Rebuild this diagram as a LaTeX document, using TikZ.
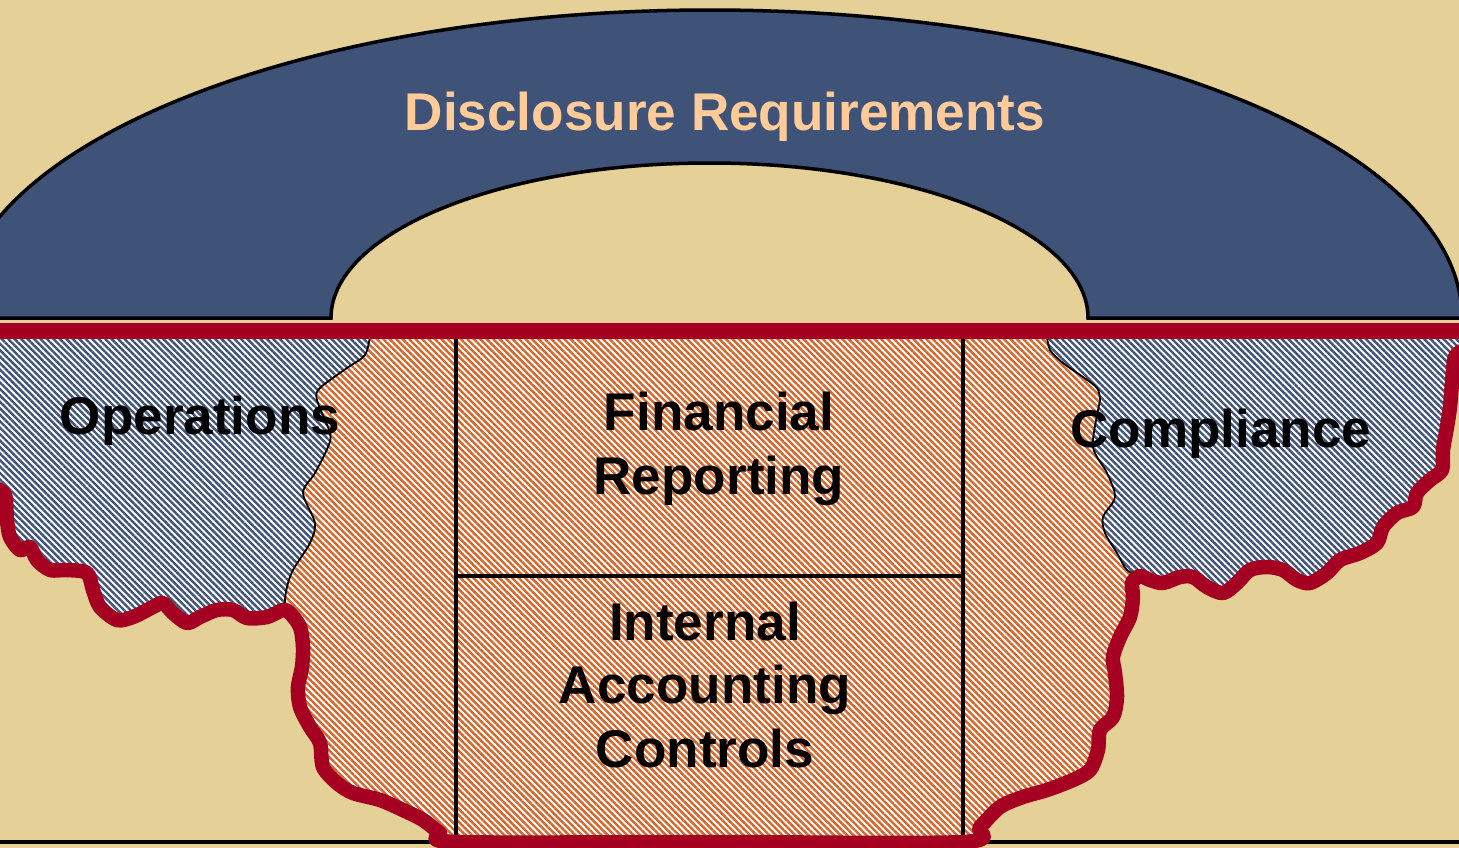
\documentclass[tikz,border=0pt]{standalone}
\usepackage{fontspec}
\setsansfont{Liberation Sans}
\usetikzlibrary{patterns.meta}

\definecolor{sand}{RGB}{229,208,152}
\definecolor{navy}{RGB}{63,82,120}
\definecolor{peach}{RGB}{255,204,153}
\definecolor{crimson}{RGB}{165,0,33}
\definecolor{rust}{RGB}{215,100,40}

\tikzset{
  hatch/.style={preaction={fill=white}, pattern={Lines[angle=-45,distance=1.3pt,line width=0.68pt]}},
  seam/.style={draw=black, line width=0.018cm},
  rim/.style={draw=crimson, line width=0.145cm, line join=round, line cap=round},
  boxline/.style={draw=black, line width=0.045cm},
  areatext/.style={font=\sffamily\bfseries\fontsize{15.1}{18.1}\selectfont, align=center, inner sep=0pt},
}

\begin{document}
\begin{tikzpicture}[x=0.01cm, y=-0.01cm]
% canvas, in pixel units from the top left corner
\fill[sand] (0,0) rectangle (1459,848);
\useasboundingbox (0,0) rectangle (1459,848);
\clip (0,0) rectangle (1459,848);
\draw[line width=0.04cm] (0,842) -- (1459,842);

% arch
\draw[fill=navy, line width=0.035cm] (-42,318)
  arc[start angle=180, end angle=360, x radius=752, y radius=308] -- (1088,318)
  arc[start angle=360, end angle=180, x radius=378.5, y radius=155] -- cycle;
\node[areatext, text=peach, anchor=base] (disclosure) at (725,130) {Disclosure Requirements};

% hatched ground below the band
\path[hatch, pattern color=rust] (-5,336) -- (-5,488) -- plot[smooth] coordinates {(-5,488) (5,495) (7,520) (10,537) (20,550) (30,547) (37,560) (50,570) (67,570) (87,573) (93,590) (100,607) (117,620) (133,617) (153,607) (163,603) (173,613) (187,623) (200,617) (217,610) (233,610) (247,618) (267,617) (283,610) (290,613) (300,627) (303,647) (302,667) (298,687) (300,707) (310,727) (320,743) (323,767) (337,783) (353,793) (380,800) (403,810) (423,820) (440,833) (456,842) (710,842) (963,842) (980,827) (1000,807) (1023,797) (1047,790) (1073,780) (1090,770) (1098,750) (1100,730) (1113,717) (1117,697) (1115,673) (1113,657) (1120,637) (1130,617) (1133,597) (1132,583) (1140,576) (1150,580) (1163,583) (1180,577) (1193,577) (1207,587) (1223,593) (1237,583) (1250,570) (1267,567) (1283,570) (1297,580) (1310,583) (1327,573) (1340,560) (1360,553) (1377,543) (1383,527) (1397,513) (1413,507) (1417,493) (1430,480) (1442,470) (1443,450) (1447,427) (1450,407) (1452,383) (1455,357) (1464,350)} -- (1464,336) -- cycle;

% operations
\path[hatch, pattern color=navy, seam] (-5,336) -- (370,336)
  -- plot[smooth] coordinates {(370,336) (365,355) (347,368) (320,388) (317,400) (330,433) (328,447) (315,473) (303,493) (315,523) (310,543) (293,570) (287,587) (285,603) (290,613)}
  -- plot[smooth] coordinates {(290,613) (283,610) (267,617) (247,618) (233,610) (217,610) (200,617) (187,623) (173,613) (163,603) (153,607) (133,617) (117,620) (100,607) (93,590) (87,573) (67,570) (50,570) (37,560) (30,547) (20,550) (10,537) (7,520) (5,495) (-5,488)} -- cycle;
\node[areatext, anchor=base] (operations) at (200,434) {Operations};

% compliance
\path[hatch, pattern color=navy, seam] (1464,336) -- (1047,336)
  -- plot[smooth] coordinates {(1047,336) (1050,350) (1063,363) (1083,377) (1097,388) (1100,400) (1098,410) (1093,447) (1107,473) (1115,497) (1103,517) (1105,533) (1117,553) (1127,570) (1140,576)}
  -- plot[smooth] coordinates {(1140,576) (1150,580) (1163,583) (1180,577) (1193,577) (1207,587) (1223,593) (1237,583) (1250,570) (1267,567) (1283,570) (1297,580) (1310,583) (1327,573) (1340,560) (1360,553) (1377,543) (1383,527) (1397,513) (1413,507) (1417,493) (1430,480) (1442,470) (1443,450) (1447,427) (1450,407) (1452,383) (1455,357) (1464,350)} -- cycle;
\node[areatext, anchor=base] (compliance) at (1221,447) {Compliance};

% central box
\draw[boxline] (456,336) -- (456,842);
\draw[boxline] (963,336) -- (963,842);
\draw[boxline] (456,576) -- (963,576);
\node[areatext] (reporting) at (719,449) {Financial\\Reporting};
\node[areatext] (controls) at (705,685) {Internal\\Accounting\\Controls};

% red band and red rim
\fill[crimson] (-5,323) rectangle (1464,339);
\draw[rim] plot[smooth] coordinates {(-5,488) (5,495) (7,520) (10,537) (20,550) (30,547) (37,560) (50,570) (67,570) (87,573) (93,590) (100,607) (117,620) (133,617) (153,607) (163,603) (173,613) (187,623) (200,617) (217,610) (233,610) (247,618) (267,617) (283,610) (290,613) (300,627) (303,647) (302,667) (298,687) (300,707) (310,727) (320,743) (323,767) (337,783) (353,793) (380,800) (403,810) (423,820) (440,833) (456,842) (710,842) (963,842) (980,827) (1000,807) (1023,797) (1047,790) (1073,780) (1090,770) (1098,750) (1100,730) (1113,717) (1117,697) (1115,673) (1113,657) (1120,637) (1130,617) (1133,597) (1132,583) (1140,576) (1150,580) (1163,583) (1180,577) (1193,577) (1207,587) (1223,593) (1237,583) (1250,570) (1267,567) (1283,570) (1297,580) (1310,583) (1327,573) (1340,560) (1360,553) (1377,543) (1383,527) (1397,513) (1413,507) (1417,493) (1430,480) (1442,470) (1443,450) (1447,427) (1450,407) (1452,383) (1455,357) (1464,350)};
\end{tikzpicture}
\end{document}
